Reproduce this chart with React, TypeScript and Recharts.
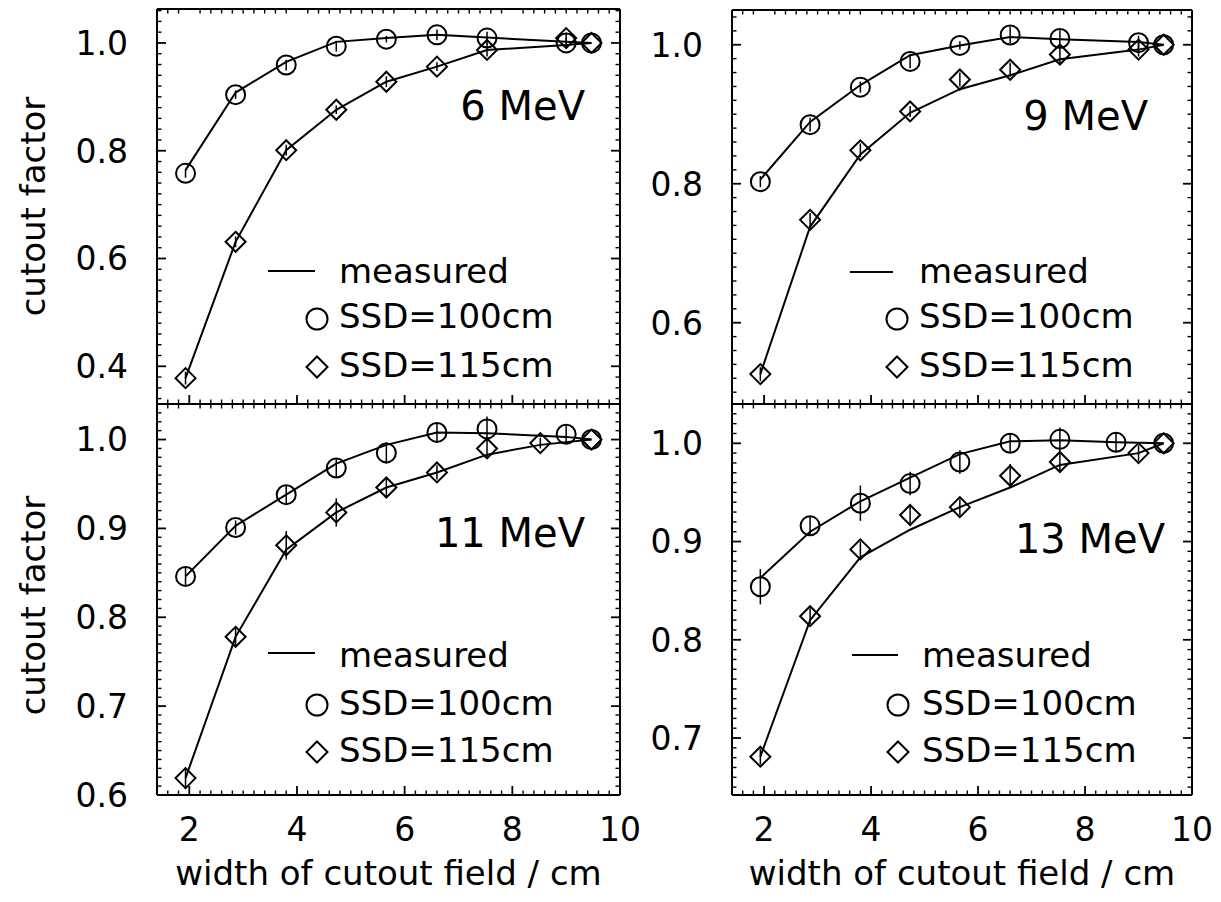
import React from "react";
import { ComposedChart, Line, Scatter, XAxis, YAxis, ErrorBar, Legend, ReferenceDot } from "recharts";

const FONT = "'DejaVu Sans', 'Liberation Sans', Arial, sans-serif";

// cutout widths (cm)
const widths = [1.93, 2.86, 3.8, 4.73, 5.66, 6.6, 7.53, 9.0, 9.47];
const widths11Diamond = [1.93, 2.86, 3.8, 4.73, 5.66, 6.6, 7.53, 8.52, 9.47];
const widths13Circle = [1.93, 2.86, 3.8, 4.73, 5.66, 6.6, 7.53, 8.58, 9.47];
const xTicks = [2, 4, 6, 8, 10];

// 6 MeV
const meas100_6 = [0.764, 0.908, 0.965, 1.002, 1.009, 1.015, 1.01, 1.002, 1.0];
const ssd100_6 = [0.758, 0.904, 0.959, 0.994, 1.007, 1.015, 1.009, 1.0, 1.0];
const err100_6 = [0.008, 0.008, 0.01, 0.01, 0.006, 0.01, 0.012, 0.01, 0];
const meas115_6 = [0.378, 0.631, 0.801, 0.876, 0.928, 0.956, 0.987, 0.996, 1.0];
const ssd115_6 = [0.378, 0.631, 0.801, 0.876, 0.928, 0.956, 0.987, 1.009, 1.0];
const err115_6 = [0.012, 0.01, 0.01, 0.008, 0.01, 0.008, 0.012, 0.01, 0];

// 9 MeV
const meas100_9 = [0.806, 0.889, 0.942, 0.985, 0.999, 1.011, 1.008, 1.004, 1.0];
const ssd100_9 = [0.803, 0.885, 0.939, 0.976, 0.999, 1.014, 1.009, 1.003, 1.0];
const err100_9 = [0.008, 0.01, 0.008, 0.01, 0.006, 0.012, 0.012, 0.01, 0];
const meas115_9 = [0.526, 0.738, 0.842, 0.902, 0.936, 0.956, 0.979, 0.993, 1.0];
const ssd115_9 = [0.526, 0.748, 0.848, 0.904, 0.95, 0.964, 0.986, 0.993, 1.0];
const err115_9 = [0.01, 0.01, 0.01, 0.008, 0.01, 0.01, 0.014, 0.01, 0];

// 11 MeV
const meas100_11 = [0.846, 0.903, 0.938, 0.973, 0.994, 1.008, 1.007, 1.003, 1.0];
const ssd100_11 = [0.846, 0.901, 0.938, 0.968, 0.985, 1.008, 1.012, 1.006, 1.0];
const err100_11 = [0.01, 0.008, 0.01, 0.01, 0.012, 0.01, 0.014, 0.01, 0];
const meas115_11 = [0.619, 0.778, 0.876, 0.918, 0.946, 0.963, 0.983, 0.994, 1.0];
const ssd115_11 = [0.619, 0.778, 0.881, 0.918, 0.946, 0.963, 0.99, 0.996, 1.0];
const err115_11 = [0.012, 0.01, 0.016, 0.016, 0.01, 0.008, 0.01, 0.006, 0];

// 13 MeV
const meas100_13 = [0.863, 0.91, 0.941, 0.965, 0.989, 1.002, 1.003, 1.001, 1.0];
const ssd100_13 = [0.854, 0.916, 0.939, 0.959, 0.981, 1.0, 1.004, 1.001, 1.0];
const err100_13 = [0.018, 0.01, 0.018, 0.012, 0.012, 0.01, 0.012, 0.01, 0];
const meas115_13 = [0.681, 0.82, 0.884, 0.912, 0.935, 0.955, 0.978, 0.99, 1.0];
const ssd115_13 = [0.681, 0.824, 0.892, 0.927, 0.935, 0.967, 0.981, 0.99, 1.0];
const err115_13 = [0.008, 0.008, 0.008, 0.01, 0.008, 0.012, 0.01, 0.008, 0];

const pts = (xs: number[], ys: number[], es?: number[]) =>
  ys.map((y, i) => ({ x: xs[i], y, e: es ? es[i] : 0 }));

// evenly spaced minor tick positions
const steps = (a: number, b: number, s: number) => {
  const out: number[] = [];
  for (let v = a; v <= b + 1e-9; v += s) out.push(Math.round(v * 1000) / 1000);
  return out;
};
const without = (all: number[], majors: number[]) =>
  all.filter((v) => !majors.some((m) => Math.abs(m - v) < 1e-6));

const xMinor = without(steps(1.6, 9.8, 0.2), xTicks);

const CircleMark = (props: any) => (
  <circle cx={props.cx} cy={props.cy} r={9.5} fill="none" stroke="#000" strokeWidth={2} />
);

const DiamondMark = (props: any) => {
  const { cx, cy } = props;
  const s = 10;
  return (
    <path
      d={`M${cx},${cy - s}L${cx + s},${cy}L${cx},${cy + s}L${cx - s},${cy}Z`}
      fill="none"
      stroke="#000"
      strokeWidth={2}
    />
  );
};

// plot boxes are given in page pixels; every axis takes 1px
const panels = [
  {
    key: "6",
    energy: "6 MeV",
    left: 0, top: 0, width: 640, height: 406,
    plot: { top: 9, right: 20, bottom: 2, left: 157 },
    yDomain: [0.33, 1.063], yTicks: [0.4, 0.6, 0.8, 1.0], yMinor: steps(0.34, 1.06, 0.02),
    showX: false, showYTitle: true,
    energyAt: [585, 120],
    lg: { lx1: 268, lx2: 315, ly: 271, sx: 317, tx: 339, b: [283, 328, 377], cy: [319, 367] },
    m100: pts(widths, meas100_6), s100: pts(widths, ssd100_6, err100_6),
    m115: pts(widths, meas115_6), s115: pts(widths, ssd115_6, err115_6),
  },
  {
    key: "9",
    energy: "9 MeV",
    left: 640, top: 0, width: 581, height: 406,
    plot: { top: 10, right: 29, bottom: 2, left: 92 },
    yDomain: [0.483, 1.05], yTicks: [0.6, 0.8, 1.0], yMinor: steps(0.5, 1.04, 0.02),
    showX: false, showYTitle: false,
    energyAt: [1148, 130],
    lg: { lx1: 850, lx2: 893, ly: 272, sx: 897, tx: 919, b: [283, 328, 377], cy: [319, 367] },
    m100: pts(widths, meas100_9), s100: pts(widths, ssd100_9, err100_9),
    m115: pts(widths, meas115_9), s115: pts(widths, ssd115_9, err115_9),
  },
  {
    key: "11",
    energy: "11 MeV",
    left: 0, top: 390, width: 640, height: 512,
    plot: { top: 14, right: 20, bottom: 107, left: 157 },
    yDomain: [0.6, 1.04], yTicks: [0.6, 0.7, 0.8, 0.9, 1.0], yMinor: steps(0.61, 1.03, 0.01),
    showX: true, showYTitle: true,
    energyAt: [585, 547],
    lg: { lx1: 268, lx2: 315, ly: 653, sx: 317, tx: 339, b: [667, 715, 762], cy: [705, 752] },
    m100: pts(widths, meas100_11), s100: pts(widths, ssd100_11, err100_11),
    m115: pts(widths11Diamond, meas115_11), s115: pts(widths11Diamond, ssd115_11, err115_11),
  },
  {
    key: "13",
    energy: "13 MeV",
    left: 640, top: 390, width: 581, height: 512,
    plot: { top: 14, right: 29, bottom: 107, left: 92 },
    yDomain: [0.642, 1.04], yTicks: [0.7, 0.8, 0.9, 1.0], yMinor: steps(0.65, 1.03, 0.01),
    showX: true, showYTitle: false,
    energyAt: [1165, 553],
    lg: { lx1: 852, lx2: 898, ly: 655, sx: 898, tx: 922, b: [667, 715, 762], cy: [705, 752] },
    m100: pts(widths13Circle, meas100_13), s100: pts(widths13Circle, ssd100_13, err100_13),
    m115: pts(widths, meas115_13), s115: pts(widths, ssd115_13, err115_13),
  },
];

const tickFont = { fontSize: 33, fontFamily: FONT, fill: "#000" };
const frame = { stroke: "#000", strokeWidth: 2 };

// major ticks point into the frame; (x, y) is where the axis line meets the tick
const makeTick = (dir: string, label: boolean) => (props: any) => {
  const { x, y, payload } = props;
  const v = Number(payload.value);
  const len = 9;
  let x2 = x;
  let y2 = y;
  if (dir === "left") x2 = x + len;
  else if (dir === "right") x2 = x - len;
  else if (dir === "top") y2 = y + len;
  else y2 = y - len;
  return (
    <g>
      <line x1={x} y1={y} x2={x2} y2={y2} stroke="#000" strokeWidth={1.8} />
      {label && dir === "left" && (
        <text x={x - 29} y={y} dy="0.36em" textAnchor="end" {...tickFont}>
          {v.toFixed(1)}
        </text>
      )}
      {label && dir === "bottom" && (
        <text x={x} y={y + 46} textAnchor="middle" {...tickFont}>
          {v}
        </text>
      )}
    </g>
  );
};

// minor ticks: a short inward stroke at a frame point placed by the chart's scales
const minorMark = (dir: string) => (props: any) => {
  const { cx, cy } = props;
  const len = 4.5;
  let x2 = cx;
  let y2 = cy;
  if (dir === "left") x2 = cx + len;
  else if (dir === "right") x2 = cx - len;
  else if (dir === "top") y2 = cy + len;
  else y2 = cy - len;
  return <line x1={cx} y1={cy} x2={x2} y2={y2} stroke="#000" strokeWidth={1.4} />;
};
const minorBottom = minorMark("bottom");
const minorTop = minorMark("top");
const minorLeft = minorMark("left");
const minorRight = minorMark("right");

function PanelLegend({ p }: { p: any }) {
  const ox = p.left;
  const oy = p.top;
  const { lx1, lx2, ly, sx, tx, b, cy } = p.lg;
  const t = { fontSize: 34, fontFamily: FONT, fill: "#000" };
  const s = 10.5;
  const dy = cy[1] - oy;
  const dx = sx - ox;
  return (
    <svg width={p.width} height={p.height} style={{ position: "absolute", left: 0, top: 0, overflow: "visible" }}>
      <text x={p.energyAt[0] - ox} y={p.energyAt[1] - oy} textAnchor="end" fontSize={40} fontFamily={FONT} fill="#000">
        {p.energy}
      </text>
      <line x1={lx1 - ox} x2={lx2 - ox} y1={ly - oy} y2={ly - oy} stroke="#000" strokeWidth={2} />
      <text x={tx - ox} y={b[0] - oy} {...t}>measured</text>
      <circle cx={dx} cy={cy[0] - oy} r={s} fill="none" stroke="#000" strokeWidth={2} />
      <text x={tx - ox} y={b[1] - oy} {...t}>SSD=100cm</text>
      <path d={`M${dx},${dy - s}L${dx + s},${dy}L${dx},${dy + s}L${dx - s},${dy}Z`} fill="none" stroke="#000" strokeWidth={2} />
      <text x={tx - ox} y={b[2] - oy} {...t}>SSD=115cm</text>
    </svg>
  );
}

function Panel({ p }: { p: any }) {
  const plotTop = p.plot.top;
  const plotBottom = p.height - p.plot.bottom;
  const plotLeft = p.plot.left;
  const plotRight = p.width - p.plot.right;
  const margin = {
    top: p.plot.top - 1,
    right: p.plot.right - 1,
    bottom: p.plot.bottom - 1,
    left: p.plot.left - 1,
  };
  const yMinor = without(p.yMinor, p.yTicks);
  const yTitle = () => (
    <text
      transform={`translate(45, ${(plotTop + plotBottom) / 2 + (p.showX ? 6 : 0)}) rotate(-90)`}
      textAnchor="middle"
      fontSize={34}
      fontFamily={FONT}
      fill="#000"
    >
      cutout factor
    </text>
  );
  const xTitle = () => (
    <text x={(plotLeft + plotRight) / 2} y={plotBottom + 90} textAnchor="middle" fontSize={34} fontFamily={FONT} fill="#000">
      width of cutout field / cm
    </text>
  );
  const common = { type: "number" as const, allowDataOverflow: true, interval: 0, minTickGap: 0, tickSize: 0, tickMargin: 0, tickLine: false, axisLine: frame };
  return (
    <div style={{ position: "absolute", left: p.left, top: p.top }}>
      <ComposedChart width={p.width} height={p.height} margin={margin}>
        <XAxis
          {...common} dataKey="x" domain={[1.4, 10]} ticks={xTicks} height={1}
          tick={makeTick("bottom", p.showX)}
          label={p.showX ? { content: xTitle } : undefined}
        />
        <XAxis {...common} xAxisId="xt" orientation="top" domain={[1.4, 10]} ticks={xTicks} height={1} tick={makeTick("top", false)} />
        <YAxis
          {...common} domain={p.yDomain} ticks={p.yTicks} width={1}
          tick={makeTick("left", true)}
          label={p.showYTitle ? { content: yTitle } : undefined}
        />
        <YAxis {...common} yAxisId="yr" orientation="right" domain={p.yDomain} ticks={p.yTicks} width={1} tick={makeTick("right", false)} />
        {xMinor.map((v) => (
          <ReferenceDot key={`b${v}`} x={v} y={p.yDomain[0]} r={0} ifOverflow="visible" shape={minorBottom} />
        ))}
        {xMinor.map((v) => (
          <ReferenceDot key={`t${v}`} x={v} y={p.yDomain[1]} r={0} ifOverflow="visible" shape={minorTop} />
        ))}
        {yMinor.map((v: number) => (
          <ReferenceDot key={`l${v}`} x={1.4} y={v} r={0} ifOverflow="visible" shape={minorLeft} />
        ))}
        {yMinor.map((v: number) => (
          <ReferenceDot key={`r${v}`} x={10} y={v} r={0} ifOverflow="visible" shape={minorRight} />
        ))}
        <Line data={p.m100} dataKey="y" type="linear" stroke="#000" strokeWidth={2} dot={false} activeDot={false} isAnimationActive={false} />
        <Line data={p.m115} dataKey="y" type="linear" stroke="#000" strokeWidth={2} dot={false} activeDot={false} isAnimationActive={false} />
        <Scatter data={p.s100} dataKey="y" shape={CircleMark} isAnimationActive={false}>
          <ErrorBar dataKey="e" direction="y" width={0} stroke="#000" strokeWidth={1.5} isAnimationActive={false} />
        </Scatter>
        <Scatter data={p.s115} dataKey="y" shape={DiamondMark} isAnimationActive={false}>
          <ErrorBar dataKey="e" direction="y" width={0} stroke="#000" strokeWidth={1.5} isAnimationActive={false} />
        </Scatter>
        <Legend
          layout="vertical" align="center" verticalAlign="middle"
          wrapperStyle={{ left: 0, top: 0, width: p.width, height: p.height, pointerEvents: "none" }}
          content={() => <PanelLegend p={p} />}
        />
      </ComposedChart>
    </div>
  );
}

export default function App() {
  return (
    <div style={{ position: "absolute", left: 0, top: 0, width: 1221, height: 902, background: "#fff", overflow: "hidden" }}>
      {panels.map((p) => (
        <Panel key={p.key} p={p} />
      ))}
    </div>
  );
}
